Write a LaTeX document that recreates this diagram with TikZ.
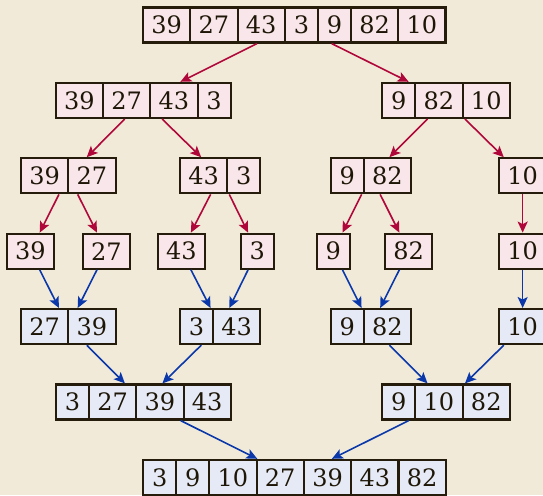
\documentclass[tikz,border=0pt]{standalone}
\usepackage{fontspec}
\setmainfont{DejaVu Serif}
\usetikzlibrary{arrows.meta,fit}

\definecolor{paper}{HTML}{F2EAD9}
\definecolor{edge}{HTML}{261C0C}
\definecolor{ink}{HTML}{1E1606}
\definecolor{splitfill}{HTML}{F8E6EA}
\definecolor{mergefill}{HTML}{E6EAF6}
\definecolor{splitarrow}{HTML}{B0073A}
\definecolor{mergearrow}{HTML}{0A38AA}

\tikzset{
  cell/.style={draw=edge, line width=2.2pt, minimum height=35pt, inner sep=0pt,
    outer sep=0pt, text=ink, font=\fontsize{24}{28}\selectfont},
  splitcell/.style={fill=splitfill},
  mergecell/.style={fill=mergefill},
  rowbox/.style={inner sep=0pt, outer sep=1.1pt},
  divide/.style={draw=splitarrow, line width=1.6pt,
    -{Stealth[length=11pt,width=10pt,inset=2.5pt]}},
  combine/.style={draw=mergearrow, line width=1.6pt,
    -{Stealth[length=11pt,width=10pt,inset=2.5pt]}},
}

% one array: name, left x, centre y, cell style, values
\newcommand\cellrow[5]{%
  \node[inner sep=0pt, outer sep=0pt, minimum size=0pt] (#1-0) at (#2,#3) {};
  \foreach \v [count=\i, remember=\i as \j (initially 0)] in {#5}{%
    \ifnum\v<10 \def\cw{33pt}\else\def\cw{47.3pt}\fi
    \node[cell,#4,anchor=west,minimum width=\cw] (#1-\i) at (#1-\j.east) {\v};
    \xdef\lastcell{\i}%
  }
  \node[rowbox, fit=(#1-1)(#1-\lastcell)] (#1) {};
}

\begin{document}
\begin{tikzpicture}[x=1pt,y=-1pt]
  \useasboundingbox (0,0) rectangle (543,495);
  \fill[paper] (0,0) rectangle (543,495);
  \clip (0,0) rectangle (543,495);

  % splitting
  \cellrow{r1}{143}{25}{splitcell}{39,27,43,3,9,82,10}
  \cellrow{r2a}{55.7}{100.4}{splitcell}{39,27,43,3}
  \cellrow{r2b}{382.3}{100.4}{splitcell}{9,82,10}
  \cellrow{r3a}{21}{175.8}{splitcell}{39,27}
  \cellrow{r3b}{180}{175.8}{splitcell}{43,3}
  \cellrow{r3c}{330.7}{175.8}{splitcell}{9,82}
  \cellrow{r3d}{499}{175.8}{splitcell}{10}
  \cellrow{r4a}{6.7}{251.2}{splitcell}{39}
  \cellrow{r4b}{82.7}{251.2}{splitcell}{27}
  \cellrow{r4c}{157.7}{251.2}{splitcell}{43}
  \cellrow{r4d}{240.7}{251.2}{splitcell}{3}
  \cellrow{r4e}{316.7}{251.2}{splitcell}{9}
  \cellrow{r4f}{385}{251.2}{splitcell}{82}
  \cellrow{r4g}{499}{251.2}{splitcell}{10}

  % merging
  \cellrow{r5a}{21}{326.6}{mergecell}{27,39}
  \cellrow{r5b}{180}{326.6}{mergecell}{3,43}
  \cellrow{r5c}{330.7}{326.6}{mergecell}{9,82}
  \cellrow{r5d}{499}{326.6}{mergecell}{10}
  \cellrow{r6a}{56}{402}{mergecell}{3,27,39,43}
  \cellrow{r6b}{382.3}{402}{mergecell}{9,10,82}
  \cellrow{r7}{143.3}{477.4}{mergecell}{3,9,10,27,39,43,82}

  \draw[divide] (r1) -- (r2a);
  \draw[divide] (r1) -- (r2b);
  \draw[divide] (r2a) -- (r3a);
  \draw[divide] (r2a) -- (r3b);
  \draw[divide] (r2b) -- (r3c);
  \draw[divide] (r2b) -- (r3d);
  \draw[divide] (r3a) -- (r4a);
  \draw[divide] (r3a) -- (r4b);
  \draw[divide] (r3b) -- (r4c);
  \draw[divide] (r3b) -- (r4d);
  \draw[divide] (r3c) -- (r4e);
  \draw[divide] (r3c) -- (r4f);
  \draw[divide] (r3d) -- (r4g);

  \draw[combine] (r4a) -- (r5a);
  \draw[combine] (r4b) -- (r5a);
  \draw[combine] (r4c) -- (r5b);
  \draw[combine] (r4d) -- (r5b);
  \draw[combine] (r4e) -- (r5c);
  \draw[combine] (r4f) -- (r5c);
  \draw[combine] (r4g) -- (r5d);
  \draw[combine] (r5a) -- (r6a);
  \draw[combine] (r5b) -- (r6a);
  \draw[combine] (r5c) -- (r6b);
  \draw[combine] (r5d) -- (r6b);
  \draw[combine] (r6a) -- (r7);
  \draw[combine] (r6b) -- (r7);
\end{tikzpicture}
\end{document}
